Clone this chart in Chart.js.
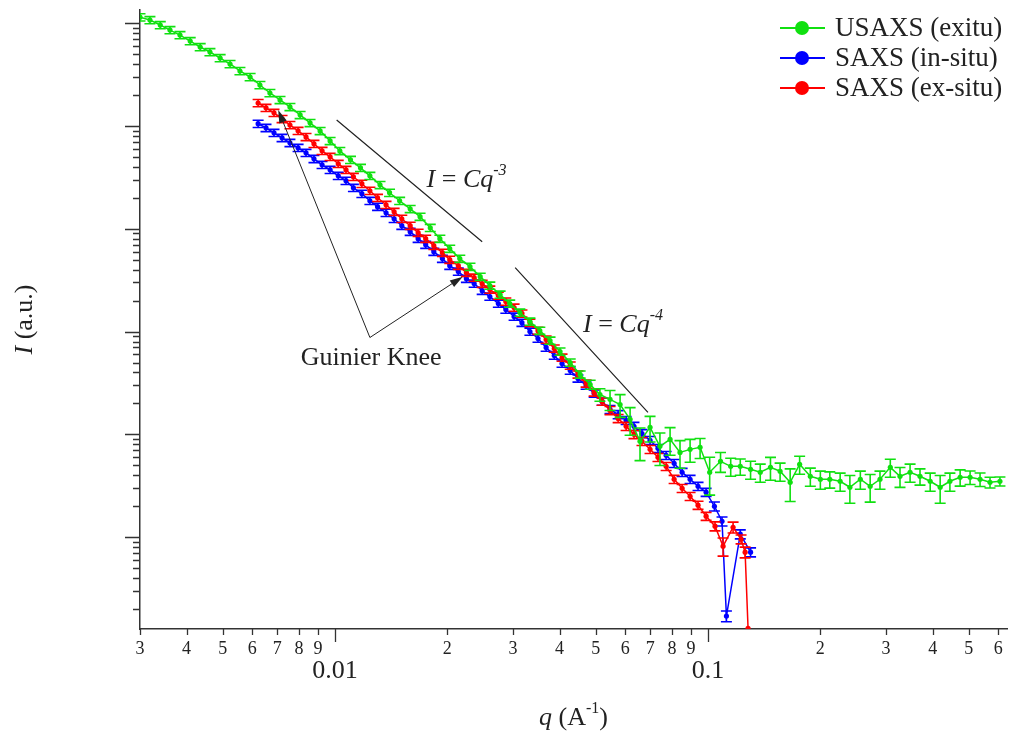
<!DOCTYPE html>
<html>
<head>
<meta charset="utf-8">
<script src="https://cdn.jsdelivr.net/npm/chart.js@4.4.1/dist/chart.umd.min.js"></script>
<style>
  html, body { margin: 0; padding: 0; background: #fff; }
</style>
</head>
<body>
<canvas id="saxs" width="1019" height="734"></canvas>
<script>
// q in 1/A, intensity in arbitrary units, errors as a fraction of the intensity
const qUsaxs = [0.00300, 0.00319, 0.00340, 0.00361, 0.00384, 0.00409, 0.00435, 0.00462, 0.00492, 0.00523,
  0.00556, 0.00592, 0.00629, 0.00669, 0.00712, 0.00757, 0.00806, 0.00857, 0.00912, 0.00970,
  0.0103, 0.0110, 0.0117, 0.0124, 0.0132, 0.0140, 0.0149, 0.0159, 0.0169, 0.0180,
  0.0191, 0.0203, 0.0216, 0.0230, 0.0245, 0.0260, 0.0277, 0.0294, 0.0313, 0.0333,
  0.0354, 0.0377, 0.0401, 0.0427, 0.0454, 0.0483, 0.0513, 0.0546, 0.0581, 0.0618,
  0.0657, 0.0699, 0.0743, 0.0791, 0.0841, 0.0895, 0.0952, 0.101, 0.108, 0.115,
  0.122, 0.130, 0.138, 0.147, 0.156, 0.166, 0.176, 0.188, 0.200, 0.212,
  0.226, 0.240, 0.256, 0.272, 0.289, 0.308, 0.327, 0.348, 0.370, 0.394,
  0.419, 0.445, 0.474, 0.504, 0.536, 0.570, 0.606];
const iUsaxs = [1.14e5, 1.07e5, 9.57e4, 8.55e4, 7.64e4, 6.68e4, 5.85e4, 5.23e4, 4.57e4, 4.00e4,
  3.42e4, 2.99e4, 2.50e4, 2.09e4, 1.79e4, 1.53e4, 1.28e4, 1.07e4, 8940, 7150,
  5710, 4680, 3910, 3270, 2670, 2240, 1870, 1560, 1310, 1020,
  800, 640, 512, 428, 342, 280, 229, 187, 153, 125,
  102, 81.8, 64.0, 50.0, 38.3, 30.5, 24.4, 21.9, 19.5, 14.0,
  8.55, 11.7, 7.65, 8.94, 6.68, 7.15, 7.48, 4.28, 5.47, 4.89,
  4.89, 4.57, 4.28, 4.78, 4.38, 3.42, 5.11, 3.91, 3.66, 3.66,
  3.50, 3.06, 3.66, 3.13, 3.66, 4.78, 3.91, 4.28, 3.91, 3.50,
  3.06, 3.50, 3.83, 3.83, 3.66, 3.42, 3.50];
const eUsaxs = [0.08, 0.08, 0.08, 0.08, 0.08, 0.08, 0.08, 0.08, 0.08, 0.08,
  0.08, 0.08, 0.08, 0.08, 0.08, 0.08, 0.08, 0.08, 0.08, 0.08,
  0.08, 0.08, 0.08, 0.08, 0.08, 0.08, 0.08, 0.08, 0.08, 0.08,
  0.08, 0.08, 0.08, 0.08, 0.08, 0.08, 0.08, 0.08, 0.08, 0.08,
  0.08, 0.08, 0.08, 0.08, 0.08, 0.10, 0.14, 0.22, 0.25, 0.30,
  0.35, 0.28, 0.35, 0.30, 0.30, 0.25, 0.22, 0.40, 0.22, 0.20,
  0.18, 0.20, 0.20, 0.25, 0.20, 0.35, 0.20, 0.20, 0.20, 0.18,
  0.20, 0.30, 0.20, 0.30, 0.20, 0.20, 0.22, 0.20, 0.18, 0.20,
  0.30, 0.20, 0.18, 0.15, 0.15, 0.12, 0.10];

const qSaxsIn = [0.00622, 0.00653, 0.00686, 0.00721, 0.00757, 0.00796, 0.00836, 0.00878, 0.00923, 0.00970,
  0.0102, 0.0107, 0.0112, 0.0118, 0.0124, 0.0130, 0.0137, 0.0144, 0.0151, 0.0159,
  0.0167, 0.0175, 0.0184, 0.0194, 0.0203, 0.0214, 0.0225, 0.0236, 0.0248, 0.0260,
  0.0274, 0.0287, 0.0302, 0.0317, 0.0333, 0.0350, 0.0368, 0.0387, 0.0406, 0.0427,
  0.0448, 0.0471, 0.0495, 0.0520, 0.0546, 0.0574, 0.0603, 0.0633, 0.0665, 0.0699,
  0.0734, 0.0772, 0.0811, 0.0852, 0.0895, 0.0940, 0.0988, 0.104, 0.109, 0.112,
  0.122, 0.130];
const iSaxsIn = [1.05e4, 9570, 8560, 7650, 6840, 6120, 5470, 4780, 4180, 3740,
  3270, 2930, 2500, 2190, 1870, 1640, 1430, 1250, 1070, 936,
  800, 700, 598, 512, 437, 383, 327, 293, 250, 219,
  187, 164, 140, 122, 100, 85.6, 70.0, 58.5, 48.9, 41.8,
  35.0, 29.9, 25.0, 20.9, 17.5, 15.6, 13.7, 12.0, 10.2, 8.75,
  7.32, 6.26, 5.23, 4.28, 3.66, 3.13, 2.74, 2.00, 1.43, 0.171,
  1.07, 0.715];
const eSaxsIn = [0.08, 0.08, 0.08, 0.08, 0.08, 0.08, 0.08, 0.08, 0.08, 0.08,
  0.08, 0.08, 0.08, 0.08, 0.08, 0.08, 0.08, 0.08, 0.08, 0.08,
  0.08, 0.08, 0.08, 0.08, 0.08, 0.08, 0.08, 0.08, 0.08, 0.08,
  0.08, 0.08, 0.08, 0.08, 0.08, 0.08, 0.08, 0.08, 0.08, 0.08,
  0.08, 0.08, 0.08, 0.08, 0.09, 0.09, 0.09, 0.09, 0.09, 0.09,
  0.09, 0.09, 0.09, 0.09, 0.09, 0.09, 0.09, 0.10, 0.10, 0.12,
  0.10, 0.10];

const qSaxsEx = [0.00622, 0.00653, 0.00686, 0.00721, 0.00757, 0.00796, 0.00836, 0.00878, 0.00923, 0.00970,
  0.0102, 0.0107, 0.0112, 0.0118, 0.0124, 0.0130, 0.0137, 0.0144, 0.0151, 0.0159,
  0.0167, 0.0175, 0.0184, 0.0194, 0.0203, 0.0214, 0.0225, 0.0236, 0.0248, 0.0260,
  0.0274, 0.0287, 0.0302, 0.0317, 0.0333, 0.0350, 0.0368, 0.0387, 0.0406, 0.0427,
  0.0448, 0.0471, 0.0495, 0.0520, 0.0546, 0.0574, 0.0603, 0.0633, 0.0665, 0.0699,
  0.0734, 0.0772, 0.0811, 0.0852, 0.0895, 0.0940, 0.0988, 0.1044, 0.1097, 0.1167,
  0.1226, 0.1257, 0.1280];
const iSaxsEx = [1.67e4, 1.50e4, 1.34e4, 1.17e4, 1.02e4, 8950, 7820, 6690, 5720, 5000,
  4280, 3740, 3200, 2740, 2340, 2000, 1710, 1460, 1250, 1070,
  915, 800, 684, 585, 500, 437, 374, 335, 292, 256,
  224, 196, 171, 150, 122, 102, 83.7, 68.4, 55.9, 46.8,
  38.3, 31.3, 25.6, 20.9, 17.1, 14.3, 12.0, 10.0, 8.56, 7.16,
  5.98, 4.89, 3.66, 2.99, 2.50, 2.05, 1.60, 1.28, 0.818, 1.25,
  0.956, 0.715, 0.13];
const eSaxsEx = [0.08, 0.08, 0.08, 0.08, 0.08, 0.08, 0.08, 0.08, 0.08, 0.08,
  0.08, 0.08, 0.08, 0.08, 0.08, 0.08, 0.08, 0.08, 0.08, 0.08,
  0.08, 0.08, 0.08, 0.08, 0.08, 0.08, 0.08, 0.08, 0.08, 0.08,
  0.08, 0.08, 0.08, 0.08, 0.08, 0.08, 0.08, 0.08, 0.08, 0.08,
  0.08, 0.08, 0.08, 0.08, 0.09, 0.09, 0.09, 0.09, 0.09, 0.09,
  0.09, 0.09, 0.09, 0.09, 0.09, 0.09, 0.09, 0.10, 0.20, 0.12,
  0.10, 0.12, 0];

const xTickValues = [0.003, 0.004, 0.005, 0.006, 0.007, 0.008, 0.009, 0.01,
  0.02, 0.03, 0.04, 0.05, 0.06, 0.07, 0.08, 0.09, 0.1,
  0.2, 0.3, 0.4, 0.5, 0.6];
const xTickLabels = ['3', '4', '5', '6', '7', '8', '9', '0.01',
  '2', '3', '4', '5', '6', '7', '8', '9', '0.1',
  '2', '3', '4', '5', '6'];
const yDecades = [0.1, 1, 10, 100, 1000, 10000, 100000];
const yMultiples = [1, 2, 3, 4, 5, 6, 7, 8, 9];

const seriesNames = ['USAXS (exitu)', 'SAXS (in-situ)', 'SAXS (ex-situ)'];
const seriesColors = ['#10e010', '#0000ff', '#ff0000'];

// annotations, in data coordinates
const slopeLines = [
  { q: [0.0101, 0.0248], i: [1.14e4, 748] },
  { q: [0.0304, 0.0690], i: [418, 16.4] }
];
const slopeLabels = [
  { q: 0.0176, i: 2560, power: '-3' },
  { q: 0.0462, i: 100, power: '-4' }
];
const knee = { q: 0.0125, i: 46.8, from: [0.0124, 87.5], tips: [[0.00704, 1.43e4], [0.0220, 342]] };

const serif = '"Liberation Serif", "Times New Roman", serif';
const ink = '#222';

function isDecade(v) {
  const l = Math.log10(v);
  return Math.abs(l - Math.round(l)) < 1e-6;
}

function pts(qs, is) {
  return qs.map((q, k) => ({ x: q, y: is[k] }));
}

// text with italic parts and superscripts: parts = [[text, flags]], flags: i = italic, s = superscript
function drawRich(ctx, parts, x, y, size, align) {
  const fontOf = f => (f.indexOf('i') >= 0 ? 'italic ' : '') +
    (f.indexOf('s') >= 0 ? Math.round(size * 0.6) : size) + 'px ' + serif;
  let total = 0;
  const widths = parts.map(([t, f]) => {
    ctx.font = fontOf(f);
    const w = ctx.measureText(t).width;
    total += w;
    return w;
  });
  let cx = align === 'center' ? x - total / 2 : x;
  ctx.textAlign = 'left';
  ctx.textBaseline = 'alphabetic';
  parts.forEach(([t, f], k) => {
    ctx.font = fontOf(f);
    ctx.fillText(t, cx, f.indexOf('s') >= 0 ? y - size * 0.45 : y);
    cx += widths[k];
  });
}

const errorBars = {
  id: 'errorBars',
  afterDatasetDraw(chart, args) {
    const ds = chart.data.datasets[args.index];
    if (!ds.err) return;
    const { ctx, chartArea: a, scales: { x, y } } = chart;
    ctx.save();
    ctx.beginPath();
    ctx.rect(a.left, a.top, a.right - a.left, a.bottom - a.top);
    ctx.clip();
    ctx.strokeStyle = ds.borderColor;
    ctx.lineWidth = 1.6;
    ctx.beginPath();
    ds.data.forEach((p, k) => {
      const e = ds.err[k];
      if (!e) return;
      const px = x.getPixelForValue(p.x);
      const top = y.getPixelForValue(p.y * (1 + e));
      const bot = y.getPixelForValue(p.y * (1 - e));
      ctx.moveTo(px, top); ctx.lineTo(px, bot);
      ctx.moveTo(px - 5.5, top); ctx.lineTo(px + 5.5, top);
      ctx.moveTo(px - 5.5, bot); ctx.lineTo(px + 5.5, bot);
    });
    ctx.stroke();
    ctx.restore();
  }
};

const decor = {
  id: 'decor',
  afterDraw(chart) {
    const { ctx, chartArea: a, scales: { x, y } } = chart;
    ctx.save();

    // tick marks, longer on the decades
    ctx.strokeStyle = '#333';
    ctx.lineWidth = 1.3;
    ctx.beginPath();
    x.ticks.forEach(t => {
      const px = Math.round(x.getPixelForValue(t.value)) + 0.5;
      ctx.moveTo(px, a.bottom);
      ctx.lineTo(px, a.bottom + (isDecade(t.value) ? 13 : 6));
    });
    y.ticks.forEach(t => {
      const py = Math.round(y.getPixelForValue(t.value)) + 0.5;
      ctx.moveTo(a.left, py);
      ctx.lineTo(a.left - (isDecade(t.value) ? 15 : 7), py);
    });
    ctx.stroke();

    // power-law guide lines
    ctx.strokeStyle = ink;
    ctx.lineWidth = 1.2;
    ctx.beginPath();
    slopeLines.forEach(s => {
      ctx.moveTo(x.getPixelForValue(s.q[0]), y.getPixelForValue(s.i[0]));
      ctx.lineTo(x.getPixelForValue(s.q[1]), y.getPixelForValue(s.i[1]));
    });
    ctx.stroke();

    ctx.fillStyle = ink;
    slopeLabels.forEach(s => {
      drawRich(ctx, [['I', 'i'], [' = ', ''], ['Cq', 'i'], [s.power, 'si']],
        x.getPixelForValue(s.q), y.getPixelForValue(s.i), 26, 'left');
    });

    // Guinier knee arrows
    const fx = x.getPixelForValue(knee.from[0]);
    const fy = y.getPixelForValue(knee.from[1]);
    ctx.lineWidth = 1;
    knee.tips.forEach(([tq, ti]) => {
      const tx = x.getPixelForValue(tq);
      const ty = y.getPixelForValue(ti);
      const ang = Math.atan2(ty - fy, tx - fx);
      ctx.beginPath();
      ctx.moveTo(fx, fy);
      ctx.lineTo(tx - 8 * Math.cos(ang), ty - 8 * Math.sin(ang));
      ctx.stroke();
      ctx.beginPath();
      ctx.moveTo(tx, ty);
      ctx.lineTo(tx - 13 * Math.cos(ang) + 4 * Math.sin(ang), ty - 13 * Math.sin(ang) - 4 * Math.cos(ang));
      ctx.lineTo(tx - 13 * Math.cos(ang) - 4 * Math.sin(ang), ty - 13 * Math.sin(ang) + 4 * Math.cos(ang));
      ctx.closePath();
      ctx.fill();
    });
    drawRich(ctx, [['Guinier Knee', '']], x.getPixelForValue(knee.q), y.getPixelForValue(knee.i), 26, 'center');

    // axis titles
    drawRich(ctx, [['q', 'i'], [' (A', ''], ['-1', 's'], [')', '']], (a.left + a.right) / 2, a.bottom + 96, 26, 'center');
    ctx.save();
    ctx.translate(32, (a.top + a.bottom) / 2);
    ctx.rotate(-Math.PI / 2);
    drawRich(ctx, [['I', 'i'], [' (a.u.)', '']], 0, 0, 26, 'center');
    ctx.restore();

    // legend
    seriesNames.forEach((name, k) => {
      const ly = a.top + 18 + k * 30;
      ctx.strokeStyle = seriesColors[k];
      ctx.fillStyle = seriesColors[k];
      ctx.lineWidth = 2;
      ctx.beginPath();
      ctx.moveTo(a.right - 227, ly);
      ctx.lineTo(a.right - 182, ly);
      ctx.stroke();
      ctx.beginPath();
      ctx.arc(a.right - 205, ly, 7, 0, Math.PI * 2);
      ctx.fill();
      ctx.fillStyle = ink;
      ctx.font = '27px ' + serif;
      ctx.textAlign = 'left';
      ctx.textBaseline = 'middle';
      ctx.fillText(name, a.right - 172, ly + 1);
    });

    ctx.restore();
  }
};

function seriesStyle(k) {
  return {
    label: seriesNames[k],
    borderColor: seriesColors[k],
    backgroundColor: seriesColors[k],
    pointBackgroundColor: seriesColors[k],
    pointBorderWidth: 0,
    pointRadius: 2.6,
    borderWidth: 1.5,
    showLine: true,
    order: [0, 2, 1][k]
  };
}

new Chart(document.getElementById('saxs'), {
  type: 'scatter',
  data: {
    datasets: [
      Object.assign(seriesStyle(0), { data: pts(qUsaxs, iUsaxs), err: eUsaxs }),
      Object.assign(seriesStyle(1), { data: pts(qSaxsIn, iSaxsIn), err: eSaxsIn }),
      Object.assign(seriesStyle(2), { data: pts(qSaxsEx, iSaxsEx), err: eSaxsEx })
    ]
  },
  options: {
    responsive: false,
    animation: false,
    devicePixelRatio: 1,
    layout: { padding: { left: 0, right: 12, top: 10, bottom: 0 } },
    plugins: { legend: { display: false }, tooltip: { enabled: false } },
    scales: {
      x: {
        type: 'logarithmic',
        position: 'bottom',
        min: 0.003,
        max: 0.633,
        grid: { display: false, drawTicks: false },
        border: { display: true, color: '#333', width: 1.5 },
        afterBuildTicks: s => { s.ticks = xTickValues.map(v => ({ value: v })); },
        afterFit: s => { s.height = 105; },
        ticks: {
          autoSkip: false,
          maxRotation: 0,
          padding: 9,
          color: ink,
          font: c => ({ family: serif, size: (c.tick && isDecade(c.tick.value)) ? 26 : 18, lineHeight: '22px' }),
          callback: (v, k) => isDecade(v) ? ['', xTickLabels[k]] : xTickLabels[k]
        }
      },
      y: {
        type: 'logarithmic',
        position: 'left',
        min: 0.128,
        max: 1.34e5,
        grid: { display: false, drawTicks: false },
        border: { display: true, color: '#333', width: 1.5 },
        afterBuildTicks: s => {
          const t = [];
          yDecades.forEach(d => yMultiples.forEach(m => {
            const v = d * m;
            if (v >= s.min && v <= s.max) t.push({ value: v });
          }));
          s.ticks = t;
        },
        afterFit: s => { s.width = 140; },
        ticks: { display: false }
      }
    }
  },
  plugins: [errorBars, decor]
});
</script>
</body>
</html>
